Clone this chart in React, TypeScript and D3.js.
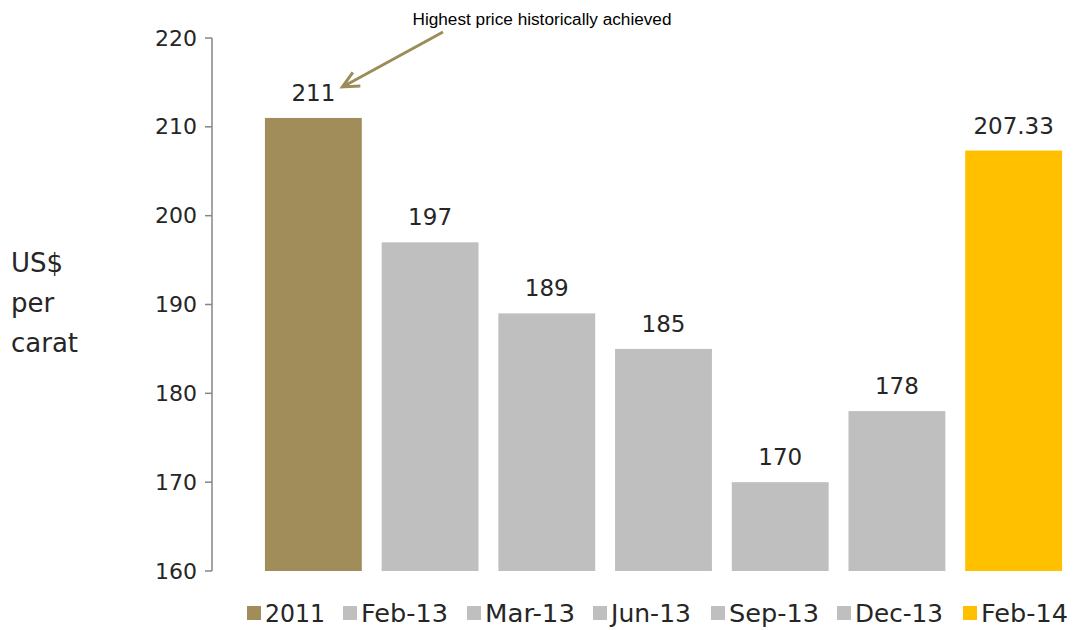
import { useEffect, useRef } from 'react';
import * as d3 from 'd3';

const categories = ['2011', 'Feb-13', 'Mar-13', 'Jun-13', 'Sep-13', 'Dec-13', 'Feb-14'];
const prices = [211, 197, 189, 185, 170, 178, 207.33];
const priceLabels = ['211', '197', '189', '185', '170', '178', '207.33'];
const barColors = ['#A08D5A', '#BFBFBF', '#BFBFBF', '#BFBFBF', '#BFBFBF', '#BFBFBF', '#FFC000'];
const yTicks = [160, 170, 180, 190, 200, 210, 220];
const yLabelLines = ['US$', 'per', 'carat'];
const annotationText = 'Highest price historically achieved';

const W = 1075;
const H = 630;
const FONT = '"DejaVu Sans", Verdana, sans-serif';

export default function App() {
  const svgRef = useRef<SVGSVGElement>(null);

  useEffect(() => {
    if (!svgRef.current) return;
    const svg = d3.select(svgRef.current);
    svg.selectAll('*').remove();

    const y = d3.scaleLinear().domain([160, 220]).range([571, 38]);
    const x = d3.scaleBand<string>()
      .domain(categories)
      .range([255, 1072])
      .paddingInner(0.17)
      .paddingOuter(0.085);

    // axis
    const axisX = 212;
    svg.append('line')
      .attr('x1', axisX).attr('x2', axisX)
      .attr('y1', y(220)).attr('y2', y(160))
      .attr('stroke', '#868686').attr('stroke-width', 1.5);

    yTicks.forEach(t => {
      svg.append('line')
        .attr('x1', axisX - 7).attr('x2', axisX)
        .attr('y1', y(t)).attr('y2', y(t))
        .attr('stroke', '#868686').attr('stroke-width', 1.5);
      svg.append('text')
        .attr('x', 197).attr('y', y(t))
        .attr('text-anchor', 'end')
        .attr('dominant-baseline', 'central')
        .attr('font-family', FONT)
        .attr('font-size', 22)
        .attr('fill', '#262626')
        .text(t);
    });

    // y label
    yLabelLines.forEach((line, i) => {
      svg.append('text')
        .attr('x', 11).attr('y', 272 + i * 40)
        .attr('font-family', FONT)
        .attr('font-size', 26)
        .attr('fill', '#262626')
        .text(line);
    });

    // bars
    categories.forEach((c, i) => {
      svg.append('rect')
        .attr('x', x(c)!)
        .attr('y', y(prices[i]))
        .attr('width', x.bandwidth())
        .attr('height', y(160) - y(prices[i]))
        .attr('fill', barColors[i]);
      svg.append('text')
        .attr('x', x(c)! + x.bandwidth() / 2)
        .attr('y', y(prices[i]) - 17)
        .attr('text-anchor', 'middle')
        .attr('font-family', FONT)
        .attr('font-size', 23)
        .attr('fill', '#262626')
        .text(priceLabels[i]);
    });

    // annotation
    svg.append('text')
      .attr('x', 542).attr('y', 25)
      .attr('text-anchor', 'middle')
      .attr('font-family', '"Liberation Sans Narrow", "Liberation Sans", sans-serif')
      .attr('font-size', 16)
      .attr('textLength', 259)
      .attr('lengthAdjust', 'spacingAndGlyphs')
      .attr('fill', '#000')
      .text(annotationText);

    const tipX = x(categories[0])! + x.bandwidth() / 2 + 29;
    const tipY = y(211) - 31;
    const startX = 443, startY = 32;
    const ang = Math.atan2(startY - tipY, startX - tipX);
    const headLen = 18;
    const spread = 0.45;
    svg.append('path')
      .attr('d', `M${startX},${startY}L${tipX},${tipY}` +
        `M${tipX + headLen * Math.cos(ang + spread)},${tipY + headLen * Math.sin(ang + spread)}` +
        `L${tipX},${tipY}` +
        `L${tipX + headLen * Math.cos(ang - spread)},${tipY + headLen * Math.sin(ang - spread)}`)
      .attr('fill', 'none')
      .attr('stroke', '#9C8C5A')
      .attr('stroke-width', 3);

    // legend
    const legendX = [247, 343, 467, 593, 711, 837, 963];
    const legendW = [60, 87, 90, 80, 90, 88, 87];
    categories.forEach((c, i) => {
      svg.append('rect')
        .attr('x', legendX[i]).attr('y', 606)
        .attr('width', 14).attr('height', 14)
        .attr('fill', barColors[i]);
      svg.append('text')
        .attr('x', legendX[i] + 18).attr('y', 622)
        .attr('font-family', FONT)
        .attr('font-size', 25)
        .attr('textLength', legendW[i])
        .attr('lengthAdjust', 'spacingAndGlyphs')
        .attr('fill', '#262626')
        .text(c);
    });
  }, []);

  return (
    <svg
      ref={svgRef}
      width={W}
      height={H}
      style={{ display: 'block', position: 'absolute', left: 0, top: 0 }}
    />
  );
}
